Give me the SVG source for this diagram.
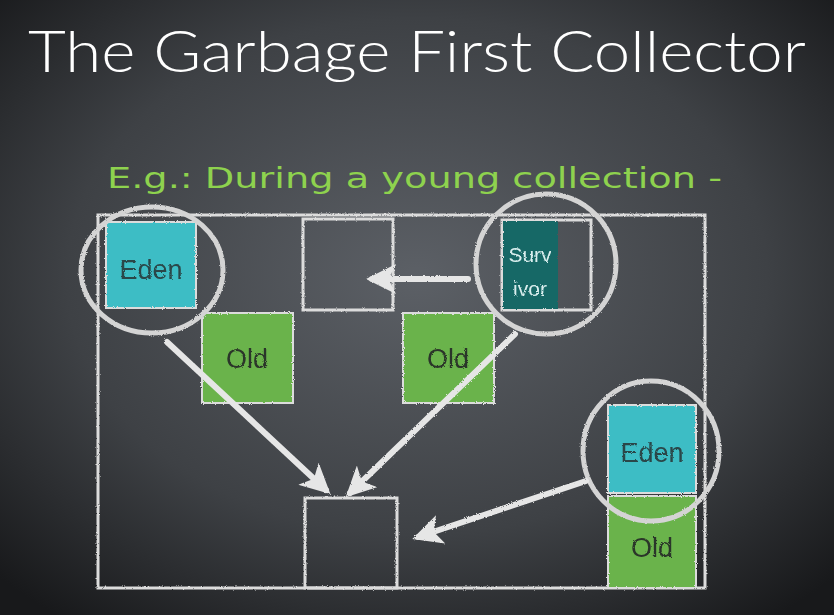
<svg xmlns="http://www.w3.org/2000/svg" width="834" height="615" viewBox="0 0 834 615">
  <defs>
    <radialGradient id="bg" cx="0.5" cy="0.45" r="0.7">
      <stop offset="0" stop-color="#5c6066"/>
      <stop offset="0.6" stop-color="#3e4145"/>
      <stop offset="1" stop-color="#18191b"/>
    </radialGradient>
    <filter id="chalk" x="-5%" y="-5%" width="110%" height="110%">
      <feTurbulence type="fractalNoise" baseFrequency="0.9" numOctaves="2" seed="3" result="n"/>
      <feDisplacementMap in="SourceGraphic" in2="n" scale="2.5"/>
    </filter>
    <marker id="head" viewBox="0 0 10 10" refX="8" refY="5" markerWidth="5" markerHeight="5" orient="auto" markerUnits="strokeWidth">
      <path d="M0,0 L10,5 L0,10 L2.5,5 Z" fill="#e6e6e6"/>
    </marker>
    <style>
      .frame{fill:none;stroke:#dcdcdc;stroke-width:3}
      .ring{fill:none;stroke:#d4d4d4;stroke-width:5}
      .eden{fill:#3dbdc5;stroke:#dcdcdc;stroke-width:2}
      .old{fill:#6ab34c;stroke:#dcdcdc;stroke-width:2}
      .surv{fill:#176866}
      .lbl{font-family:"Liberation Sans","DejaVu Sans",sans-serif;font-size:27px;fill:#2a4648;text-anchor:middle}
      .lblold{font-family:"Liberation Sans","DejaVu Sans",sans-serif;font-size:27px;fill:#2c3629;text-anchor:middle}
      .lblsurv{font-family:"Liberation Sans","DejaVu Sans",sans-serif;font-size:21px;fill:#d9eeee;text-anchor:middle}
      .arrow{fill:none;stroke:#e6e6e6;stroke-width:6;stroke-linecap:round;marker-end:url(#head)}
    </style>
  </defs>
  <rect width="834" height="615" fill="url(#bg)"/>
  <text x="28" y="72" font-family="Lato, Liberation Sans, Arial, sans-serif" font-weight="300" font-size="58" fill="#ffffff" textLength="778" lengthAdjust="spacingAndGlyphs">The Garbage First Collector</text>
  <text x="107" y="188" font-family="DejaVu Sans, Liberation Sans, sans-serif" font-size="29" fill="#8ed24e" textLength="615" lengthAdjust="spacingAndGlyphs">E.g.: During a young collection -</text>

  <g filter="url(#chalk)">
    <g id="heap">
      <rect class="frame" x="98" y="215" width="607" height="373"/>
    </g>
    <g id="eden1">
      <rect class="eden" x="106" y="222" width="90" height="86"/>
      <text class="lbl" x="151" y="279">Eden</text>
    </g>
    <g id="empty-top">
      <rect class="frame" x="303" y="219" width="90" height="91"/>
    </g>
    <g id="survivor">
      <rect class="frame" x="502" y="220" width="89" height="90"/>
      <rect class="surv" x="503" y="221" width="55" height="88"/>
      <text class="lblsurv" x="530" y="262">Surv</text>
      <text class="lblsurv" x="530" y="296">ivor</text>
    </g>
    <g id="old1">
      <rect class="old" x="202" y="313" width="91" height="90"/>
      <text class="lblold" x="247" y="368">Old</text>
    </g>
    <g id="old2">
      <rect class="old" x="403" y="313" width="91" height="90"/>
      <text class="lblold" x="448" y="368">Old</text>
    </g>
    <g id="eden2">
      <rect class="eden" x="608" y="405" width="88" height="88"/>
      <text class="lbl" x="652" y="462">Eden</text>
    </g>
    <g id="old3">
      <rect class="old" x="608" y="496" width="88" height="92"/>
      <text class="lblold" x="652" y="557">Old</text>
    </g>
    <g id="empty-bottom">
      <rect class="frame" x="305" y="498" width="92" height="90"/>
    </g>
    <g id="circles">
      <ellipse class="ring" cx="152" cy="270" rx="71" ry="63"/>
      <ellipse class="ring" cx="546" cy="264" rx="70" ry="70"/>
      <ellipse class="ring" cx="651" cy="451" rx="68" ry="70"/>
    </g>
    <g id="connectors">
      <path class="arrow" d="M468,279 L372,279"/>
      <path class="arrow" d="M167,342 L326,490"/>
      <path class="arrow" d="M515,334 L350,493"/>
      <path class="arrow" d="M586,481 L418,537"/>
    </g>
  </g>
</svg>
